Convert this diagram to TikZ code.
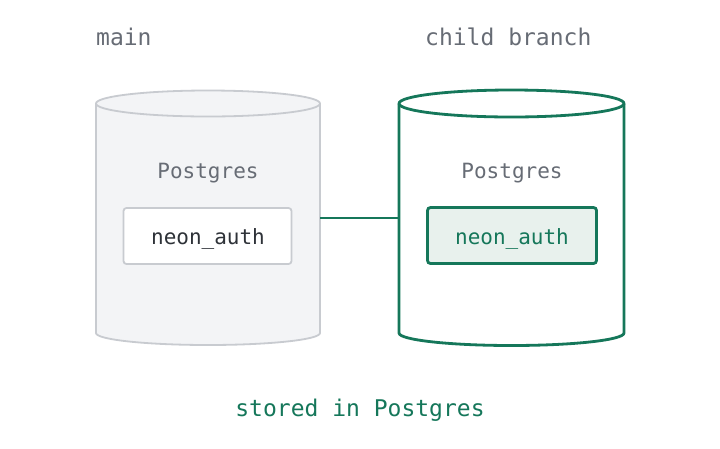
\documentclass[tikz,border=0pt]{standalone}
\usepackage{fontspec}
\setmonofont{DejaVu Sans Mono}
\definecolor{grayline}{HTML}{C8CBD0}
\definecolor{grayfill}{HTML}{F3F4F6}
\definecolor{graytext}{HTML}{676C75}
\definecolor{darktext}{HTML}{2E3238}
\definecolor{neongreen}{HTML}{15775A}
\definecolor{greenfill}{HTML}{E8F1ED}
\begin{document}
\begin{tikzpicture}[x=1pt,y=-1pt,
  title/.style={font=\ttfamily\fontsize{23}{26}\selectfont, inner sep=0pt, anchor=base west},
  inner/.style={font=\ttfamily\fontsize{21}{24}\selectfont, inner sep=0pt, anchor=base},
  graycyl/.style={draw=grayline, fill=grayfill, line width=1.8pt},
  greencyl/.style={draw=neongreen, fill=white, line width=2.8pt},
  graybox/.style={draw=grayline, fill=white, line width=1.8pt, rounded corners=3pt},
  greenbox/.style={draw=neongreen, fill=greenfill, line width=2.8pt, rounded corners=3pt},
  link/.style={draw=neongreen, line width=2.8pt}]
\useasboundingbox (0,0) rectangle (720,448);
\fill[white] (0,0) rectangle (720,448);
% left cylinder
\path[graycyl] (96,103.5) -- (96,333) arc (180:0:112 and 12) -- (320,103.5) arc (0:-180:112 and 13) -- cycle;
\draw[graycyl, fill=none] (96,103.5) arc (180:0:112 and 13);
\node[draw=none, minimum width=224pt, minimum height=242pt, inner sep=0pt] (lc) at (208,218) {};
% right cylinder
\path[greencyl] (399,103.5) -- (399,333) arc (180:0:112.5 and 12.5) -- (624,103.5) arc (0:-180:112.5 and 13.5) -- cycle;
\draw[greencyl, fill=none] (399,103.5) arc (180:0:112.5 and 13.5);
\node[draw=none, minimum width=225pt, minimum height=242pt, inner sep=0pt] (rc) at (511.5,218) {};
% connector
\draw[link] (lc.east) -- (rc.west);
% inner boxes
\node[graybox, minimum width=168pt, minimum height=56pt] (lb) at (207.5,236) {};
\node[greenbox, minimum width=169pt, minimum height=56pt] (rb) at (512,235.5) {};
\node[inner, text=darktext] (lbt) at (208,244) {neon\_auth};
\node[inner, text=neongreen] (rbt) at (512,244) {neon\_auth};
\node[inner, text=graytext] (lp) at (208,178) {Postgres};
\node[inner, text=graytext] (rp) at (512,178) {Postgres};
% titles
\node[title, text=graytext] (tmain) at (96,45) {main};
\node[title, text=graytext] (tchild) at (425,45) {child branch};
\node[inner, font=\ttfamily\fontsize{23}{26}\selectfont, text=neongreen] (stored) at (360,416) {stored in Postgres};
\end{tikzpicture}
\end{document}
